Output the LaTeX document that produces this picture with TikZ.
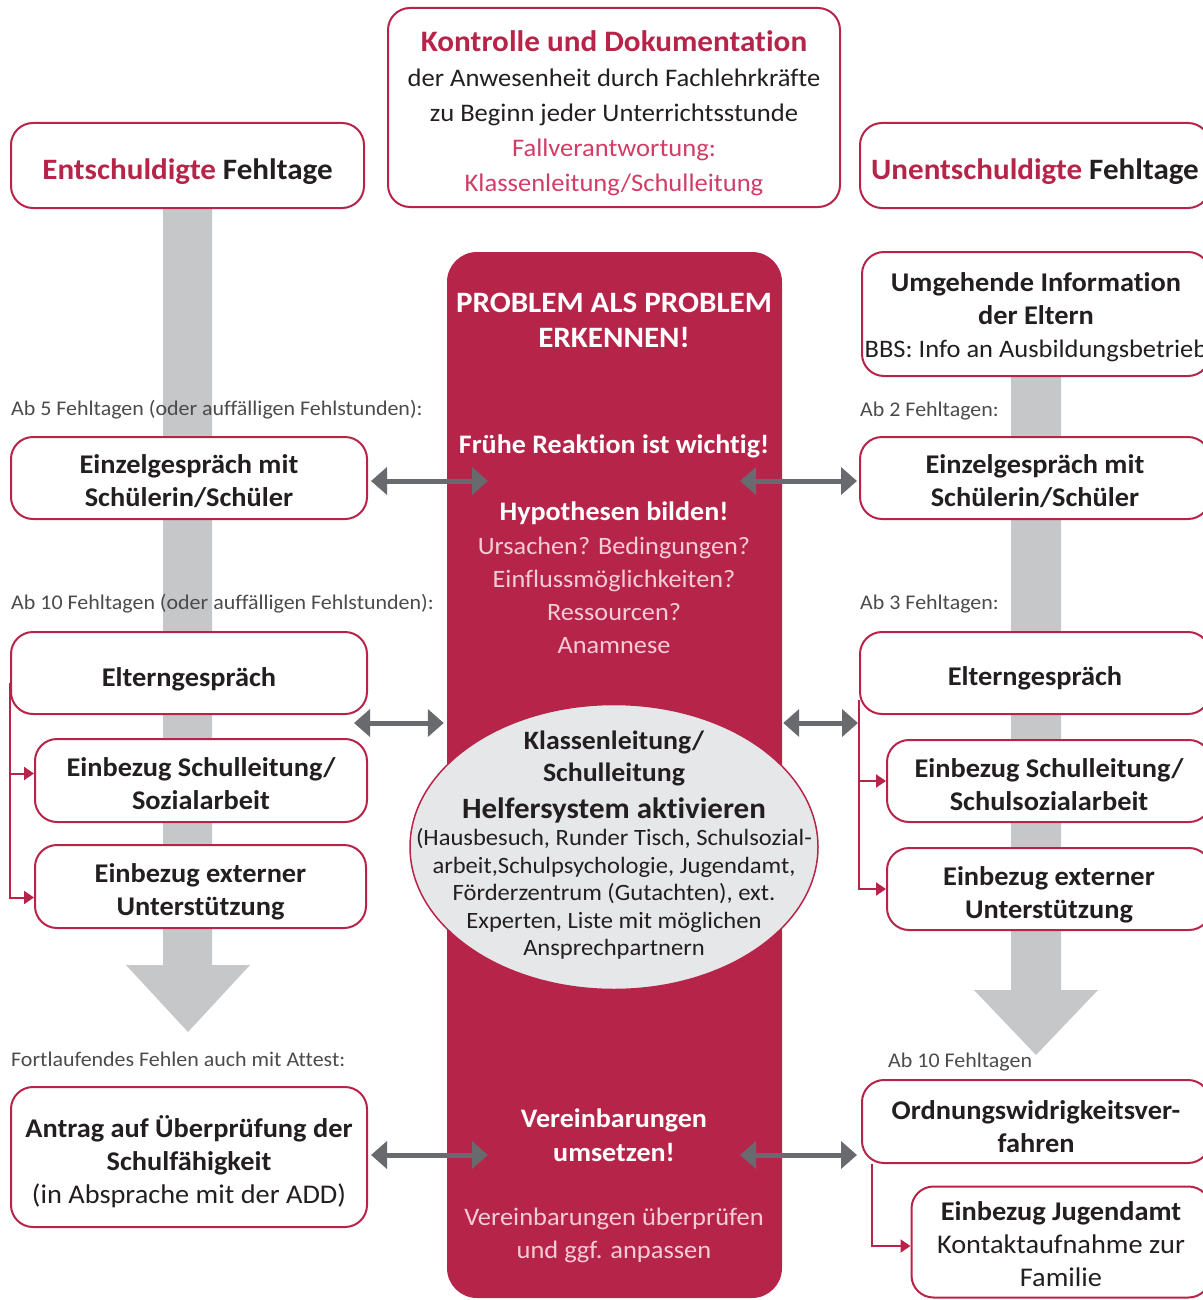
\documentclass[tikz,border=0pt]{standalone}
\usepackage{fontspec}
\setmainfont{Carlito}[FakeStretch=1.05, Ligatures=NoCommon]
\usetikzlibrary{arrows.meta,shapes.geometric,backgrounds}

\definecolor{bbred}{RGB}{183,36,73}
\definecolor{bbrose}{RGB}{208,62,104}
\definecolor{bbpink}{RGB}{244,204,214}
\definecolor{bbbar}{RGB}{198,199,201}
\definecolor{bbarrow}{RGB}{104,106,109}
\definecolor{bbell}{RGB}{230,231,232}
\definecolor{bbtext}{RGB}{35,31,32}
\definecolor{bblabel}{RGB}{75,75,75}

\newcommand{\sz}[2]{\fontsize{#1}{#2}\selectfont}
% taller first line, pushes a text block down inside its box
\newcommand{\lift}[1]{\rule{0pt}{#1}}

\tikzset{
  stepbox/.style={draw=bbred, line width=2pt, fill=white, rounded corners=22pt, align=center,
    inner sep=0pt, text=bbtext, font=\sz{27}{33}\bfseries},
  hint/.style={anchor=west, inner sep=0pt, text=bblabel, font=\sz{20.9}{24}},
  whitehead/.style={align=center, inner sep=0pt, text=white, font=\sz{26.7}{34}\bfseries},
  pinklist/.style={align=center, inner sep=0pt, text=bbpink, font=\sz{25}{33}},
  darklist/.style={align=center, inner sep=0pt, text=bbtext},
  twoway/.style={bbarrow, line width=5pt, {Triangle[length=16pt,width=27pt]}-{Triangle[length=16pt,width=27pt]}},
  branch/.style={bbred, line width=2pt, -{Triangle[length=10pt,width=13pt]}},
}

\begin{document}
\begin{tikzpicture}[x=1pt,y=-1pt]
\useasboundingbox (0,0) rectangle (1202,1300);

% middle column
\node[fill=bbred, rounded corners=30pt, minimum width=335pt, minimum height=1046pt, inner sep=0pt] (core) at (614.5,775) {};
\node[whitehead, font=\sz{29.6}{35}\bfseries] (erkennen) at (614,320) {PROBLEM ALS PROBLEM\\ ERKENNEN!};
\node[whitehead] (reaktion) at (614,446) {Frühe Reaktion ist wichtig!};
\node[whitehead] (hypo) at (614,513) {Hypothesen bilden!};
\node[pinklist] (fragen) at (614,595) {Ursachen? Bedingungen?\\ Einflussmöglichkeiten?\\ Ressourcen?\\ Anamnese};
\node[ellipse, fill=bbell, draw=bbred, line width=1.5pt, minimum width=408pt, minimum height=285pt, inner sep=0pt] (helfer) at (614,847) {};
\node[darklist, font=\sz{26.5}{32}\bfseries] (leitung) at (614,758) {Klassenleitung/\\ Schulleitung};
\node[darklist, font=\sz{29.5}{32}\bfseries] (aktiv) at (614,810) {Helfersystem aktivieren};
\node[darklist, font=\sz{23.4}{27.5}] (liste) at (614,894) {(Hausbesuch, Runder Tisch, Schulsozial-\\ arbeit,Schulpsychologie, Jugendamt,\\ Förderzentrum (Gutachten), ext.\\ Experten, Liste mit möglichen\\ Ansprechpartnern};
\node[whitehead] (umsetzen) at (614,1135) {Vereinbarungen\\ umsetzen!};
\node[pinklist, font=\sz{25.2}{33}] (pruefen) at (614,1235) {Vereinbarungen überprüfen\\ und ggf. anpassen};

% top
\node[stepbox, minimum width=452pt, minimum height=199pt, font=\sz{25.3}{35}] (kontrolle) at (614,107.5)
  {\lift{32pt}{\bfseries\color{bbred}\sz{29.7}{35}Kontrolle und Dokumentation}\\ der Anwesenheit durch Fachlehrkräfte\\ zu Beginn jeder Unterrichtsstunde\\ {\color{bbrose}Fallverantwortung:}\\ {\color{bbrose}Klassenleitung/Schulleitung}};

% left column
\node[stepbox, minimum width=353pt, minimum height=85pt, font=\sz{29.6}{33}\bfseries] (entsch) at (187.5,165.5) {\lift{34pt}\textcolor{bbred}{Entschuldigte} Fehltage};
\node[hint] (hint5) at (11,410) {Ab 5 Fehltagen (oder auffälligen Fehlstunden):};
\node[stepbox, minimum width=356pt, minimum height=82pt] (einzelL) at (189,478) {\lift{26pt}Einzelgespräch mit\\ Schülerin/Schüler};
\node[hint] (hint10) at (11,604) {Ab 10 Fehltagen (oder auffälligen Fehlstunden):};
\node[stepbox, minimum width=356pt, minimum height=82pt] (elternL) at (189,673) {\lift{32pt}Elterngespräch};
\node[stepbox, minimum width=332pt, minimum height=83pt] (leitungL) at (201,780.5) {\lift{25pt}Einbezug Schulleitung/\\ Sozialarbeit};
\node[stepbox, minimum width=331pt, minimum height=83pt] (externL) at (200.5,886.5) {\lift{29pt}Einbezug externer\\ Unterstützung};
\node[hint] (hintatt) at (11,1059) {Fortlaufendes Fehlen auch mit Attest:};
\node[stepbox, minimum width=356pt, minimum height=140pt] (antrag) at (189,1157) {\lift{32pt}Antrag auf Überprüfung der\\ Schulfähigkeit\\ {\mdseries (in Absprache mit der ADD)}};

% right column
\node[stepbox, minimum width=350pt, minimum height=85pt, font=\sz{29.6}{33}\bfseries] (unentsch) at (1035,165.5) {\lift{34pt}\textcolor{bbred}{Unentschuldigte} Fehltage};
\node[stepbox, minimum width=348pt, minimum height=124pt] (info) at (1036,314) {\lift{25pt}Umgehende Information\\ der Eltern\\ {\mdseries\sz{25.2}{32}BBS: Info an Ausbildungsbetrieb}};
\node[hint] (hint2) at (860,411) {Ab 2 Fehltagen:};
\node[stepbox, minimum width=350pt, minimum height=82pt] (einzelR) at (1035,478) {\lift{26pt}Einzelgespräch mit\\ Schülerin/Schüler};
\node[hint] (hint3) at (860,604) {Ab 3 Fehltagen:};
\node[stepbox, minimum width=350pt, minimum height=82pt] (elternR) at (1035,673) {\lift{30pt}Elterngespräch};
\node[stepbox, minimum width=324pt, minimum height=82pt] (leitungR) at (1049,781) {\lift{26pt}Einbezug Schulleitung/\\ Schulsozialarbeit};
\node[stepbox, minimum width=324pt, minimum height=82pt] (externR) at (1049,889) {\lift{31pt}Einbezug externer\\ Unterstützung};
\node[hint] (hintow) at (888,1062) {Ab 10 Fehltagen};
\node[stepbox, minimum width=348pt, minimum height=83pt] (owi) at (1036,1121.5) {\lift{30pt}Ordnungswidrigkeitsver-\\ fahren};
\node[stepbox, minimum width=299pt, minimum height=111pt] (jugend) at (1061,1242) {\lift{23pt}Einbezug Jugendamt\\ {\mdseries Kontaktaufnahme zur}\\ {\mdseries Familie}};

% grey flow bars behind the boxes
\begin{scope}[on background layer]
  \coordinate (tipL) at (188,1032);
  \coordinate (tipR) at (1036,1055);
  \fill[bbbar] ([xshift=-24.5pt]entsch.south) -- ([xshift=24.5pt]entsch.south) -- (212,965) -- (250,965)
    -- (tipL) -- (126,965) -- (163,965) -- cycle;
  \fill[bbbar] ([xshift=-25pt]info.south) -- ([xshift=25pt]info.south) -- (1061,990) -- (1098,990)
    -- (tipR) -- (974,990) -- (1011,990) -- cycle;
\end{scope}

% red branches
\coordinate (brL) at ([yshift=-10pt]elternL.west);
\draw[branch] (brL) |- ([yshift=7pt]leitungL.west);
\draw[branch] (brL) |- ([yshift=-11pt]externL.west);
\coordinate (brR) at ([yshift=-27pt]elternR.west);
\draw[branch] (brR) |- (leitungR.west);
\draw[branch] (brR) |- (externR.west);
\draw[branch] ([xshift=11pt]owi.south west) |- ([yshift=-4pt]jugend.west);

% grey double arrows
\coordinate (midL1) at (488,481);
\coordinate (midR1) at (740,481);
\coordinate (gapL) at (354,723);
\coordinate (gapR) at (858,723);
\coordinate (midL3) at (488,1155);
\coordinate (midR3) at (740,1155);
\draw[twoway, shorten <=3pt] (einzelL.east |- midL1) -- (midL1);
\draw[twoway, shorten >=2pt] (midR1) -- (einzelR.west |- midR1);
\draw[twoway, shorten >=3pt] (gapL) -- (gapL -| core.west);
\draw[twoway, shorten <=1pt] (gapR -| core.east) -- (gapR);
\draw[twoway, shorten <=3pt] (antrag.east |- midL3) -- (midL3);
\draw[twoway, shorten >=4pt] (midR3) -- (owi.west |- midR3);
\end{tikzpicture}
\end{document}
